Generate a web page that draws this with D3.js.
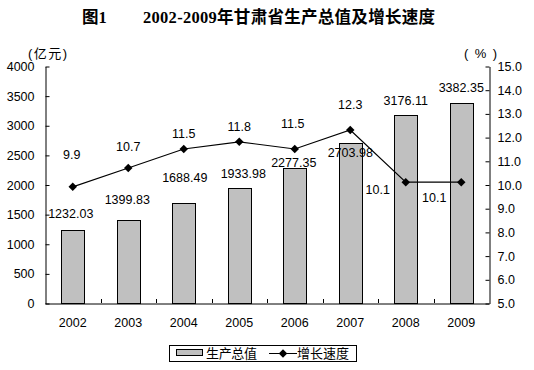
<!DOCTYPE html>
<html>
<head>
<meta charset="utf-8">
<script src="https://cdn.jsdelivr.net/npm/d3@7"></script>
<style>
  body { margin: 0; background: #fff; }
  svg { display: block; }
  text { font-family: "Liberation Sans", Arial, "Noto Sans CJK SC", sans-serif; }
</style>
</head>
<body>
<div id="chart"></div>
<script>
// chart data
const years = ["2002", "2003", "2004", "2005", "2006", "2007", "2008", "2009"];
const gdp = [1232.03, 1399.83, 1688.49, 1933.98, 2277.35, 2703.98, 3176.11, 3382.35];
const growth = [9.9, 10.7, 11.5, 11.8, 11.5, 12.3, 10.1, 10.1];
const leftTicks = [0, 500, 1000, 1500, 2000, 2500, 3000, 3500, 4000];
const rightTicks = [5, 6, 7, 8, 9, 10, 11, 12, 13, 14, 15];

// hand placed label offsets, as in the original sheet
const gdpLabelDy = [-17, -21, -25, -15, -6, 10, -14, -15];
const gdpLabelDx = [-2, -1, 1, 4, -1, 0, 0, 0];
const growthLabelDx = [-1, 0, 0, 0, -2, 0, -28, -27];
const growthLabelDy = [-32, -21, -15, -15, -25, -25, 7, 15];

const W = 534;
const H = 370;
const plotL = 45, plotR = 489, plotT = 66, plotB = 303;

const svg = d3.select("#chart")
  .append("svg")
  .attr("width", W)
  .attr("height", H);

svg.append("rect").attr("width", W).attr("height", H).attr("fill", "#fff");

const x = d3.scaleBand().domain(years).range([plotL, plotR]).padding(0);
const y = d3.scaleLinear().domain([0, 4000]).range([plotB, plotT]);
const y2 = d3.scaleLinear().domain([5, 15]).range([plotB, plotT]);
const barW = x.bandwidth() * 0.42;
const cx = (d) => x(d) + x.bandwidth() / 2;

// title
const title = svg.append("g")
  .attr("font-weight", "bold")
  .attr("font-size", "16.5px");
title.append("text")
  .attr("x", 82).attr("y", 23)
  .style("font-family", "'Liberation Serif', 'Noto Sans CJK SC', serif")
  .text("图1");
title.append("text")
  .attr("x", 143).attr("y", 23)
  .attr("textLength", 292)
  .style("font-family", "'Liberation Serif', 'Noto Sans CJK SC', serif")
  .text("2002-2009年甘肃省生产总值及增长速度");

// unit labels
svg.append("text")
  .attr("x", 28).attr("y", 58)
  .attr("font-size", "13px")
  .attr("textLength", 39)
  .text("(亿元)");
svg.append("text")
  .attr("x", 464).attr("y", 58)
  .attr("font-size", "13px")
  .attr("textLength", 33)
  .text("(%)");

// bars
svg.selectAll("rect.bar")
  .data(gdp)
  .enter()
  .append("rect")
  .attr("class", "bar")
  .attr("x", (d, i) => Math.round(cx(years[i]) - barW / 2) + 0.5)
  .attr("y", (d) => Math.round(y(d)) + 0.5)
  .attr("width", Math.round(barW))
  .attr("height", (d) => plotB - Math.round(y(d)))
  .attr("fill", "#c0c0c0")
  .attr("stroke", "#000")
  .attr("stroke-width", 1);

// left axis
const axL = svg.append("g")
  .attr("transform", `translate(${plotL + 0.5},0.5)`)
  .call(d3.axisLeft(y).tickValues(leftTicks).tickFormat(d3.format("d"))
    .tickSizeInner(-4).tickSizeOuter(0).tickPadding(11));
// right axis
const axR = svg.append("g")
  .attr("transform", `translate(${plotR + 0.5},0.5)`)
  .call(d3.axisRight(y2).tickValues(rightTicks).tickFormat(d3.format(".1f"))
    .tickSizeInner(-4).tickSizeOuter(0).tickPadding(8));
// bottom axis
const axB = svg.append("g")
  .attr("transform", `translate(0,${plotB + 0.5})`)
  .call(d3.axisBottom(x).tickSize(0).tickPadding(15));

[axL, axR, axB].forEach((g) => {
  g.selectAll("text").attr("font-size", "12.5px").attr("fill", "#000")
    .style("font-family", "'Liberation Sans', Arial, sans-serif");
  g.selectAll("line").attr("stroke", "#000");
  g.select(".domain").attr("stroke", "#000");
});

// category separators on x axis
svg.append("g")
  .selectAll("line")
  .data(years.slice(1))
  .enter()
  .append("line")
  .attr("x1", (d) => Math.round(x(d)) + 0.5)
  .attr("x2", (d) => Math.round(x(d)) + 0.5)
  .attr("y1", plotB)
  .attr("y2", plotB - 4)
  .attr("stroke", "#000");

// growth line
const line = d3.line()
  .x((d, i) => cx(years[i]))
  .y((d) => y2(d));

svg.append("path")
  .datum(growth)
  .attr("d", line)
  .attr("fill", "none")
  .attr("stroke", "#000")
  .attr("stroke-width", 1.1);

const diamond = d3.symbol().type(d3.symbolDiamond2).size(46);
svg.selectAll("path.mark")
  .data(growth)
  .enter()
  .append("path")
  .attr("class", "mark")
  .attr("d", diamond)
  .attr("transform", (d, i) => `translate(${cx(years[i])},${y2(d)})`)
  .attr("fill", "#000");

// value labels
svg.selectAll("text.gdp")
  .data(gdp)
  .enter()
  .append("text")
  .attr("class", "gdp")
  .attr("text-anchor", "middle")
  .attr("font-size", "12.5px")
  .attr("x", (d, i) => cx(years[i]) + gdpLabelDx[i])
  .attr("y", (d, i) => y(d) + gdpLabelDy[i])
  .attr("dy", "0.36em")
  .text((d) => d.toFixed(2));

svg.selectAll("text.growth")
  .data(growth)
  .enter()
  .append("text")
  .attr("class", "growth")
  .attr("text-anchor", "middle")
  .attr("font-size", "12.5px")
  .attr("x", (d, i) => cx(years[i]) + growthLabelDx[i])
  .attr("y", (d, i) => y2(d) + growthLabelDy[i])
  .attr("dy", "0.36em")
  .text((d) => d.toFixed(1));

// legend
const lg = svg.append("g");
lg.append("rect")
  .attr("x", 169.5).attr("y", 345.5)
  .attr("width", 187).attr("height", 16)
  .attr("fill", "#fff").attr("stroke", "#000");
lg.append("rect")
  .attr("x", 176.5).attr("y", 349.5)
  .attr("width", 26).attr("height", 6)
  .attr("fill", "#c0c0c0").attr("stroke", "#000");
lg.append("text")
  .attr("x", 206).attr("y", 358)
  .attr("font-size", "13px")
  .attr("textLength", 51)
  .style("font-family", "'Noto Sans CJK SC', sans-serif")
  .text("生产总值");
lg.append("line")
  .attr("x1", 269).attr("x2", 297)
  .attr("y1", 353.5).attr("y2", 353.5)
  .attr("stroke", "#000");
lg.append("path")
  .attr("d", diamond)
  .attr("transform", "translate(283,353.5)")
  .attr("fill", "#000");
lg.append("text")
  .attr("x", 297).attr("y", 358)
  .attr("font-size", "13px")
  .attr("textLength", 52)
  .style("font-family", "'Noto Sans CJK SC', sans-serif")
  .text("增长速度");
</script>
</body>
</html>
